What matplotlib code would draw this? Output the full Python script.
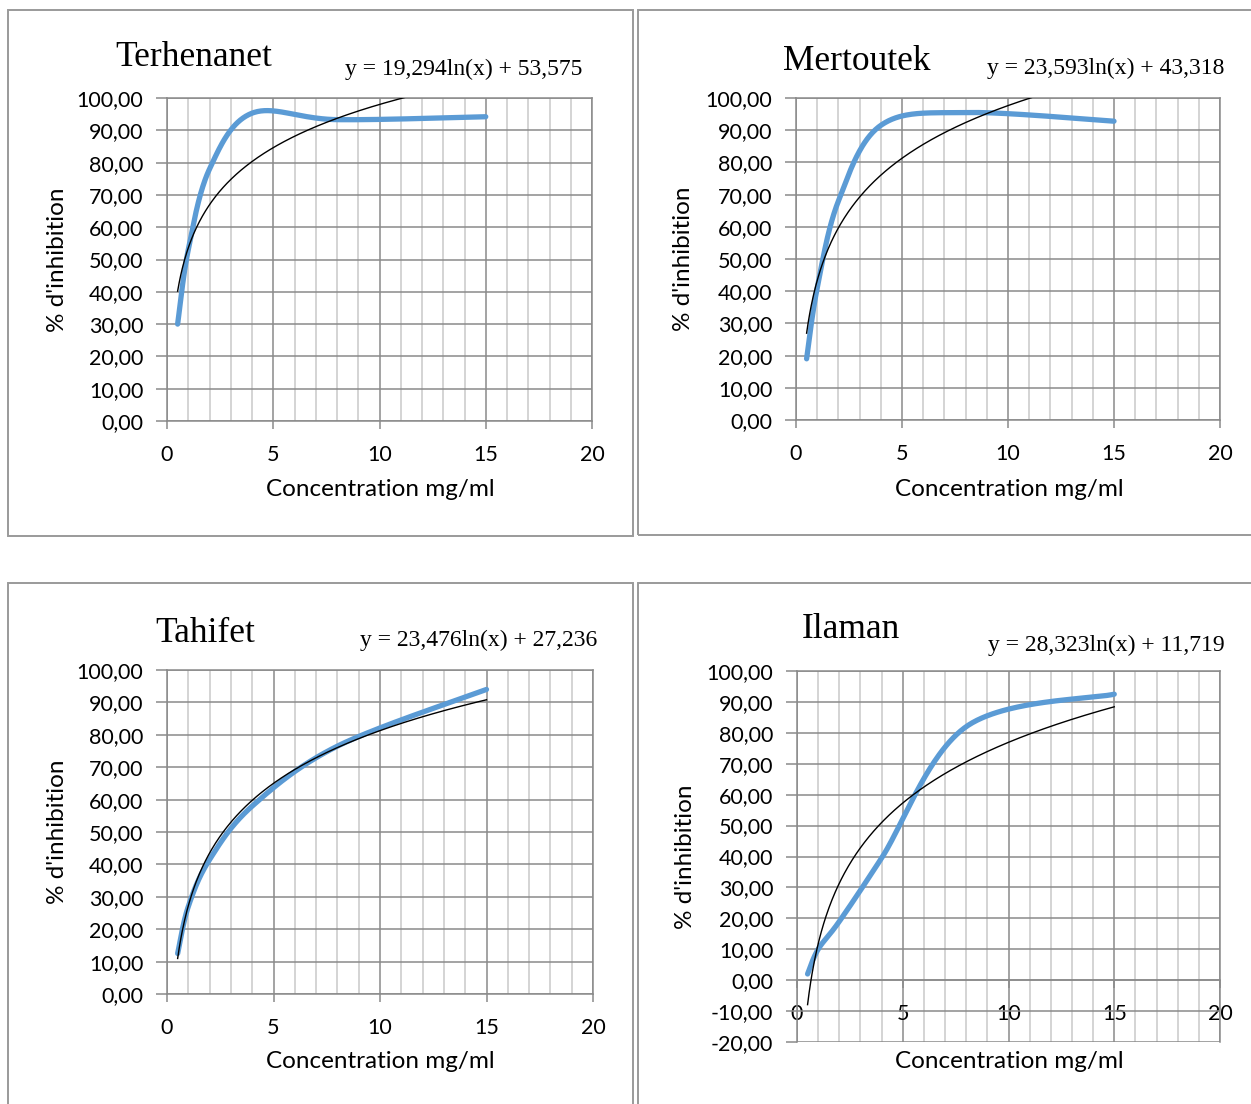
import numpy as np
import matplotlib
matplotlib.use("Agg")
import matplotlib.pyplot as plt
from matplotlib.ticker import MultipleLocator, FuncFormatter
from matplotlib.patches import Rectangle

# Concentrations tested (mg/ml)
conc = [0.5, 1, 2, 4, 8, 15]

# Measured inhibition (%) per site
terhenanet = [30.0, 53.0, 78.0, 95.3, 93.3, 94.2]
mertoutek = [19.0, 41.0, 68.0, 91.5, 95.5, 92.8]
tahifet = [12.5, 27.0, 41.5, 58.0, 76.5, 94.0]
ilaman = [2.0, 10.0, 19.0, 39.5, 82.0, 92.5]

names = ["Terhenanet", "Mertoutek", "Tahifet", "Ilaman"]
series = [terhenanet, mertoutek, tahifet, ilaman]

# Logarithmic trend lines y = a*ln(x) + b
fit_a = [19.294, 23.593, 23.476, 28.323]
fit_b = [53.575, 43.318, 27.236, 11.719]

y_min = [0, 0, 0, -20]

W, H = 1251, 1104
fig = plt.figure(figsize=(W / 100, H / 100), dpi=100)

SANS = ["Lato", "DejaVu Sans"]
SERIF = ["Liberation Serif", "DejaVu Serif"]
MAJ = "#8a8a8a"
MIN = "#c9c9c9"
BLUE = "#5B9BD5"


def fx(px):
    return px / W


def fy(py):
    return 1 - py / H


def smooth(xs, ys, n=60):
    """Catmull-Rom style Bezier through the points (spreadsheet smoothed line)."""
    p = np.column_stack([xs, ys]).astype(float)
    ext = np.vstack([p[0], p, p[-1]])
    out = []
    t = np.linspace(0, 1, n)[:, None]
    for i in range(len(p) - 1):
        p0, p1, p2, p3 = ext[i], ext[i + 1], ext[i + 2], ext[i + 3]
        c1 = p1 + (p2 - p0) / 6
        c2 = p2 - (p3 - p1) / 6
        seg = ((1 - t) ** 3) * p1 + 3 * ((1 - t) ** 2) * t * c1 + 3 * (1 - t) * t ** 2 * c2 + t ** 3 * p2
        out.append(seg if i == 0 else seg[1:])
    s = np.vstack(out)
    return s[:, 0], s[:, 1]


comma = FuncFormatter(lambda v, pos: f"{v:.2f}".replace(".", ","))

# panel frames (pixel boxes: left, top, right, bottom)
frames = [(8, 10, 633, 536), (638, 10, 1262, 535), (8, 583, 633, 1115), (638, 583, 1262, 1115)]
# plot areas (pixel: left, top, right, bottom)
areas = [(167, 98, 592, 421), (796, 98, 1220, 420), (167, 670, 593, 994), (797, 671, 1220, 1042)]
titles_pos = [(194, 57), (857, 61), (205, 634), (851, 629)]
eq_pos = [(582, 69), (1224, 68), (597, 640), (1225, 645)]
ylab_pos = [(57, 260), (684, 259), (57, 832), (686, 857)]
xlab_pos = [(380, 490), (1009, 489), (380, 1062), (1009, 1062)]

for (l, t, r, b) in frames:
    fig.patches.append(Rectangle((fx(l), fy(b)), fx(r - l), (b - t) / H, transform=fig.transFigure,
                                 fill=False, edgecolor="#9a9a9a", linewidth=1.4))

for k in range(4):
    l, t, r, b = areas[k]
    ax = fig.add_axes([fx(l), fy(b), fx(r - l), (b - t) / H])
    ax.set_xlim(0, 20)
    ax.set_ylim(y_min[k], 100)

    ax.xaxis.set_major_locator(MultipleLocator(5))
    ax.xaxis.set_minor_locator(MultipleLocator(1))
    ax.yaxis.set_major_locator(MultipleLocator(10))
    ax.yaxis.set_major_formatter(comma)

    ax.grid(which="minor", axis="x", color=MIN, linewidth=1.1, zorder=0)
    ax.grid(which="major", axis="x", color=MAJ, linewidth=1.1, zorder=0)
    ax.grid(which="major", axis="y", color=MAJ, linewidth=1.1, zorder=0)
    ax.set_axisbelow(True)

    for s in ax.spines.values():
        s.set_color(MAJ)
        s.set_linewidth(1.1)
    if y_min[k] < 0:
        ax.spines["bottom"].set_position(("data", 0))

    ax.tick_params(axis="both", which="major", length=6, width=1.1, color=MAJ,
                   labelsize=15.5, labelcolor="black")
    ax.tick_params(axis="x", which="minor", length=0)
    ax.tick_params(axis="x", pad=11)
    ax.tick_params(axis="y", pad=9)
    ax.tick_params(axis="y", length=8)
    for lab in ax.get_xticklabels() + ax.get_yticklabels():
        lab.set_family(SANS)

    # logarithmic trend line
    xt = np.linspace(conc[0], conc[-1], 400)
    ax.plot(xt, fit_a[k] * np.log(xt) + fit_b[k], color="black", linewidth=1.0, zorder=3)

    # smoothed measurement curve
    sx, sy = smooth(conc, series[k])
    ax.plot(sx, sy, color=BLUE, linewidth=3.8, solid_capstyle="round", zorder=2)

    fig.text(fx(titles_pos[k][0]), fy(titles_pos[k][1]), names[k], family=SERIF,
             fontsize=25.5, ha="center", va="center")
    eq = f"y = {fit_a[k]:.3f}ln(x) + {fit_b[k]:.3f}".replace(".", ",")
    fig.text(fx(eq_pos[k][0]), fy(eq_pos[k][1]), eq, family=SERIF, fontsize=17,
             ha="right", va="center")
    fig.text(fx(ylab_pos[k][0]), fy(ylab_pos[k][1]), "% d'inhibition", family=SANS,
             fontsize=17.5, rotation=90, ha="center", va="center")
    fig.text(fx(xlab_pos[k][0]), fy(xlab_pos[k][1]), "Concentration mg/ml", family=SANS,
             fontsize=17.5, ha="center", va="center")

fig.savefig("out.png", dpi=100, facecolor="white")
